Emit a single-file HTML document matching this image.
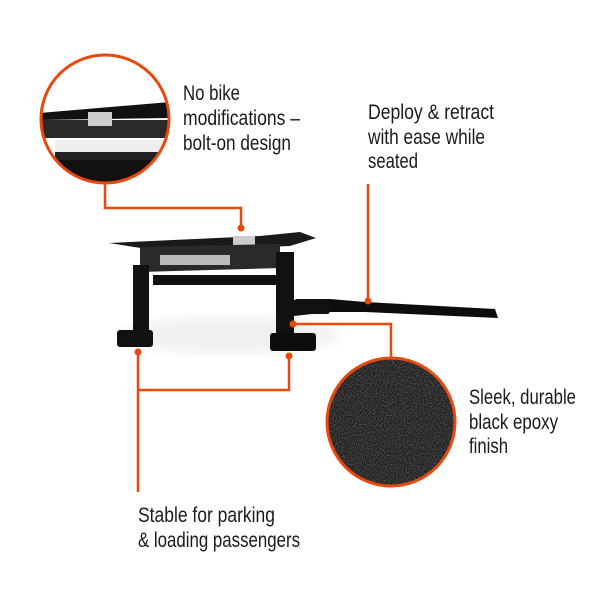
<!DOCTYPE html>
<html><head><style>
html,body{margin:0;padding:0;background:#fff;width:600px;height:601px;overflow:hidden}
svg{display:block}
text{font-family:"Liberation Sans",sans-serif;font-size:21px;fill:#1a1a1a}
</style></head><body>
<svg width="600" height="601" viewBox="0 0 600 601" xmlns="http://www.w3.org/2000/svg">
<defs>
<clipPath id="c1"><circle cx="105" cy="119" r="64"/></clipPath>
<clipPath id="c2"><circle cx="391" cy="422" r="64"/></clipPath>
<filter id="sh"><feGaussianBlur stdDeviation="6"/></filter>
<filter id="noise" x="0" y="0" width="100%" height="100%"><feTurbulence type="fractalNoise" baseFrequency="0.9" numOctaves="2"/><feColorMatrix values="0 0 0 0 0.3  0 0 0 0 0.3  0 0 0 0 0.3  0 0 0 1.5 -0.6"/></filter>
</defs>
<g clip-path="url(#c1)">
<rect x="40" y="54" width="130" height="130" fill="#fff"/>
<polygon points="40,113 170,102 170,118 40,120" fill="#111"/>
<rect x="40" y="120" width="130" height="18" fill="#2a2a2a"/>
<rect x="88" y="112" width="24" height="14" fill="#ccc"/>
<rect x="55" y="140" width="115" height="12" fill="#eee"/>
<rect x="40" y="160" width="130" height="30" fill="#111"/>
<rect x="55" y="152" width="115" height="8" fill="#222"/>
</g>
<circle cx="105" cy="119" r="64" fill="none" stroke="#e8490f" stroke-width="3"/>
<circle cx="391" cy="422" r="64" fill="#1c1c1c"/>
<g clip-path="url(#c2)"><rect x="327" y="358" width="128" height="128" filter="url(#noise)"/></g>
<circle cx="391" cy="422" r="64" fill="none" stroke="#e8490f" stroke-width="3"/>
<ellipse cx="230" cy="335" rx="110" ry="18" fill="#000" opacity="0.06" filter="url(#sh)"/>
<polygon points="109,243 260,236 300,232 316,238 290,246 160,251" fill="#1a1a1a"/>
<rect x="233" y="236" width="22" height="10" fill="#ccc"/>
<polygon points="140,247 280,244 280,268 140,272" fill="#2a2a2a"/>
<rect x="160" y="255" width="70" height="10" fill="#bbb"/>
<rect x="153" y="275" width="130" height="10" fill="#111"/>
<rect x="133" y="265" width="16" height="72" fill="#111"/>
<rect x="276" y="252" width="18" height="90" fill="#111"/>
<rect x="117" y="330" width="36" height="17" rx="3" fill="#111"/>
<rect x="270" y="333" width="46" height="18" rx="3" fill="#0d0d0d"/>
<polygon points="294,300 330,299 365,302 495,309 498,318 365,312 330,312 294,316" fill="#0d0d0d"/>
<rect x="294" y="299" width="36" height="15" rx="3" fill="#111"/>
<g stroke="#e8490f" stroke-width="2.5" fill="none">
<polyline points="105,183 105,208 241,208 241,228"/>
<line x1="368" y1="184" x2="368" y2="301"/>
<polyline points="293,324 391,324 391,358"/>
<polyline points="138,352 138,492"/>
<polyline points="138,390 289,390 289,356"/>
</g>
<g fill="#e8490f">
<circle cx="241" cy="228" r="3.5"/><circle cx="368" cy="301" r="3.5"/>
<circle cx="293" cy="324" r="3.5"/><circle cx="138" cy="352" r="3.5"/><circle cx="289" cy="356" r="3.5"/>
</g>
<g lengthAdjust="spacingAndGlyphs">
<text x="183" y="100" textLength="57" lengthAdjust="spacingAndGlyphs">No bike</text>
<text x="183" y="125" textLength="117" lengthAdjust="spacingAndGlyphs">modifications –</text>
<text x="183" y="150" textLength="108" lengthAdjust="spacingAndGlyphs">bolt-on design</text>
<text x="368" y="119" textLength="126" lengthAdjust="spacingAndGlyphs">Deploy &amp; retract</text>
<text x="368" y="144" textLength="117" lengthAdjust="spacingAndGlyphs">with ease while</text>
<text x="368" y="168" textLength="50" lengthAdjust="spacingAndGlyphs">seated</text>
<text x="469" y="404" textLength="107" lengthAdjust="spacingAndGlyphs">Sleek, durable</text>
<text x="469" y="429" textLength="89" lengthAdjust="spacingAndGlyphs">black epoxy</text>
<text x="469" y="453" textLength="39" lengthAdjust="spacingAndGlyphs">finish</text>
<text x="138" y="522" textLength="137" lengthAdjust="spacingAndGlyphs">Stable for parking</text>
<text x="138" y="547" textLength="162" lengthAdjust="spacingAndGlyphs">&amp; loading passengers</text>
</g>
</svg>
</body></html>
